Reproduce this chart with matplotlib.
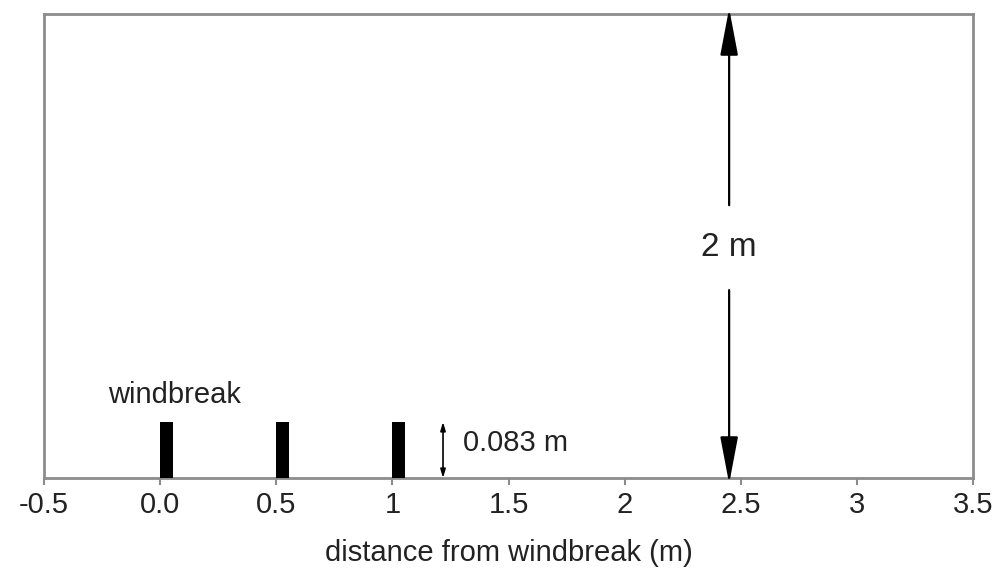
import numpy as np
import matplotlib
matplotlib.use("Agg")
import matplotlib.pyplot as plt
from matplotlib.transforms import blended_transform_factory

plt.rcParams['font.family'] = ['Liberation Sans', 'DejaVu Sans']

# Windbreak fences (positions in m) and their height (m)
fence_x = [0.0, 0.5, 1.0]
fence_height = 0.083
fence_width = 0.056
domain_height = 2.0
domain_arrow_x = 2.45
dim_arrow_x = 1.218

tick_values = [-0.5, 0.0, 0.5, 1.0, 1.5, 2.0, 2.5, 3.0, 3.5]
tick_labels = ['-0.5', '0.0', '0.5', '1', '1.5', '2', '2.5', '3', '3.5']

# Vertical axis is stretched near the ground so the low fences stay visible
P = 0.664
def fwd(y):
    y = np.asarray(y, dtype=float)
    return np.sign(y) * np.abs(y) ** P
def inv(y):
    y = np.asarray(y, dtype=float)
    return np.sign(y) * np.abs(y) ** (1.0 / P)

fig = plt.figure(figsize=(9.96, 5.76), dpi=100)
ax = fig.add_axes([0.0442, 0.1701, 0.9327, 0.8056])
ax.set_yscale('function', functions=(fwd, inv))
ax.set_xlim(-0.5, 3.5)
ax.set_ylim(0, domain_height)

spine_col = '#8c8c8c'
for s in ax.spines.values():
    s.set_color(spine_col)
    s.set_linewidth(2)

ax.bar(fence_x, [fence_height] * len(fence_x), width=fence_width,
       align='edge', color='black', zorder=3)

ax.set_xticks(tick_values)
ax.set_xticklabels(tick_labels)
ax.tick_params(axis='x', direction='out', length=5, width=1.5, color=spine_col,
               labelsize=21, labelcolor='#222222', pad=4)
ax.set_yticks([])
ax.yaxis.set_minor_locator(matplotlib.ticker.NullLocator())
ax.set_xlabel('distance from windbreak (m)', fontsize=21, color='#222222', labelpad=15)

trans = blended_transform_factory(ax.transData, ax.transAxes)

# 2 m domain height dimension (heads reach the top and bottom of the domain)
big = dict(arrowstyle='-|>,head_length=29,head_width=5.5', mutation_scale=1,
           color='black', lw=1.6, shrinkA=0, shrinkB=0)
ax.annotate('', xy=(domain_arrow_x, 1.012), xytext=(domain_arrow_x, 0.588),
            xycoords=trans, textcoords=trans, arrowprops=big, annotation_clip=False)
ax.annotate('', xy=(domain_arrow_x, -0.012), xytext=(domain_arrow_x, 0.405),
            xycoords=trans, textcoords=trans, arrowprops=big, annotation_clip=False)
ax.text(domain_arrow_x, 0.496, f'{domain_height:g} m', transform=trans, fontsize=24,
        ha='center', va='center', color='#222222')

# fence height dimension
small = dict(arrowstyle='<|-|>,head_length=5,head_width=1.5', mutation_scale=1,
             color='black', lw=1.2, shrinkA=0, shrinkB=0)
ax.annotate('', xy=(dim_arrow_x, fence_height), xytext=(dim_arrow_x, 0),
            arrowprops=small)
ax.text(1.304, fence_height / 2, f'{fence_height} m', fontsize=21,
        ha='left', va='center', color='#222222')

ax.text(-0.224, 0.179, 'windbreak', transform=trans, fontsize=21,
        ha='left', va='center', color='#222222')

fig.savefig('out.png', dpi=100)
